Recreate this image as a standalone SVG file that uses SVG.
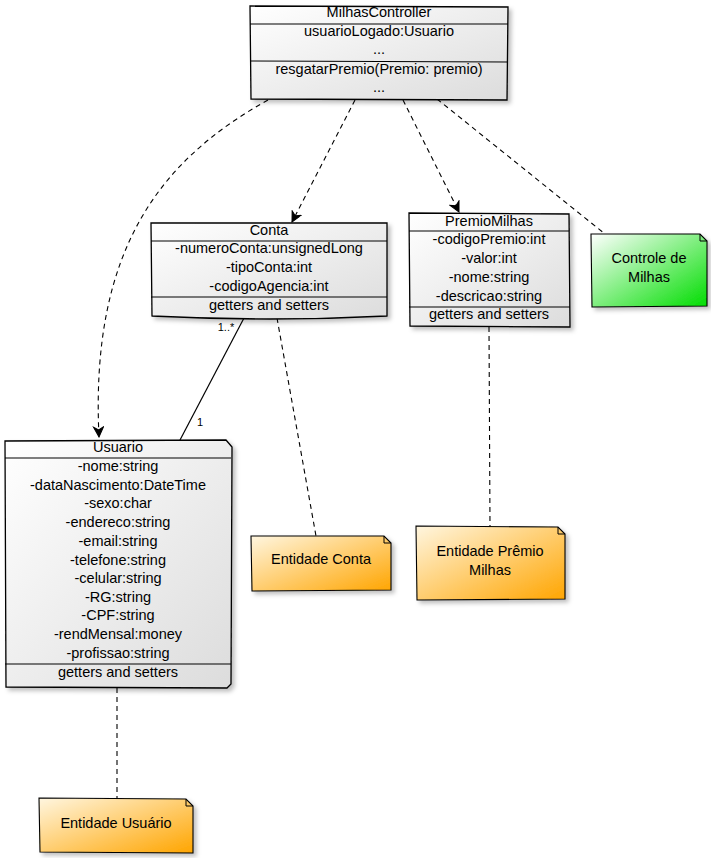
<svg xmlns="http://www.w3.org/2000/svg" width="711" height="858" viewBox="0 0 711 858">
<style>
text{font-family:"Liberation Sans","DejaVu Sans",sans-serif;font-size:14.5px;fill:#000;text-anchor:middle}
.cls{fill:url(#gGrey);stroke:#000;stroke-width:1.3;filter:url(#sh)}
.sep{stroke:#000;stroke-width:1.2;fill:none}
.ng{fill:url(#gGreen);stroke:#000;stroke-width:1.1;filter:url(#sh)}
.no{fill:url(#gOrange);stroke:#000;stroke-width:1.1;filter:url(#sh)}
.fold{fill:none;stroke:#000;stroke-width:1}
.dash{fill:none;stroke:#000;stroke-width:1.1;stroke-dasharray:5,4}
.solid{fill:none;stroke:#000;stroke-width:1.2}
.lbl{font-size:11px}
</style>
<defs>
<linearGradient id="gGrey" x1="0" y1="0" x2="1" y2="1">
<stop offset="0" stop-color="#ffffff"/><stop offset="1" stop-color="#dcdcdc"/>
</linearGradient>
<linearGradient id="gGreen" x1="0" y1="0" x2="1" y2="1">
<stop offset="0" stop-color="#ffffff"/><stop offset="1" stop-color="#00dd00"/>
</linearGradient>
<linearGradient id="gOrange" x1="0" y1="0" x2="1" y2="1">
<stop offset="0" stop-color="#fff6e0"/><stop offset="1" stop-color="#ffa500"/>
</linearGradient>
<filter id="sh" x="-10%" y="-10%" width="130%" height="130%">
<feDropShadow dx="3" dy="3" stdDeviation="2" flood-color="#000" flood-opacity="0.25"/>
</filter>
<marker id="arr" viewBox="0 0 12 12" refX="11" refY="6" markerWidth="12" markerHeight="12" markerUnits="userSpaceOnUse" orient="auto">
<path d="M1,1 L11,6 L1,11 L4,6 Z" fill="#000" stroke="#000" stroke-width="1"/>
</marker>
</defs>

<g id="connectors">
<path class="dash" d="M268,100 C160,160 90,250 99,437" marker-end="url(#arr)"/>
<path class="dash" d="M355,100 L292,222" marker-end="url(#arr)"/>
<path class="dash" d="M403,100 L459,212" marker-end="url(#arr)"/>
<path class="dash" d="M437,99 L605,234"/>
<path class="solid" d="M244,318 L180,440"/>
<text class="lbl" x="226" y="331">1..*</text>
<text class="lbl" x="200" y="426">1</text>
<path class="dash" d="M277,318 L316,536"/>
<path class="dash" d="M489,327 L490,526"/>
<path class="dash" d="M117,688 L117,798"/>
</g>

<g id="MilhasController">
<path class="cls" d="M250,6 L508,7 L507,100 L251,99 Z"/>
<path class="sep" d="M250,24 L508,24"/>
<path class="sep" d="M250,61 L508,62"/>
<text x="379" y="17">MilhasController</text>
<text x="379" y="36">usuarioLogado:Usuario</text>
<text x="379" y="54">...</text>
<text x="379" y="74">resgatarPremio(Premio: premio)</text>
<text x="379" y="92">...</text>
</g>

<g id="Conta">
<path class="cls" d="M151,223 L387,223 L387,316 Q270,322 152,316 Z"/>
<path class="sep" d="M151,241 L387,241"/>
<path class="sep" d="M151,297 L387,297"/>
<text x="269" y="235">Conta</text>
<text x="269" y="253">-numeroConta:unsignedLong</text>
<text x="269" y="272">-tipoConta:int</text>
<text x="269" y="291">-codigoAgencia:int</text>
<text x="269" y="310">getters and setters</text>
</g>

<g id="PremioMilhas">
<path class="cls" d="M409,213 L569,214 L570,327 L410,326 Z"/>
<path class="sep" d="M409,231 L569,231"/>
<path class="sep" d="M409,307 L570,307"/>
<text x="489" y="226">PremioMilhas</text>
<text x="489" y="244">-codigoPremio:int</text>
<text x="489" y="263">-valor:int</text>
<text x="489" y="282">-nome:string</text>
<text x="489" y="301">-descricao:string</text>
<text x="489" y="319">getters and setters</text>
</g>

<g id="Usuario">
<path class="cls" d="M5,441 L226,440 L232,447 L231,684 L227,688 L6,687 Z"/>
<path class="sep" d="M5,458 L231,458"/>
<path class="sep" d="M5,664 L231,664"/>
<text x="118" y="452">Usuario</text>
<text x="118" y="471">-nome:string</text>
<text x="118" y="490">-dataNascimento:DateTime</text>
<text x="118" y="508">-sexo:char</text>
<text x="118" y="527">-endereco:string</text>
<text x="118" y="546">-email:string</text>
<text x="118" y="565">-telefone:string</text>
<text x="118" y="583">-celular:string</text>
<text x="118" y="602">-RG:string</text>
<text x="118" y="620">-CPF:string</text>
<text x="118" y="639">-rendMensal:money</text>
<text x="118" y="658">-profissao:string</text>
<text x="118" y="677">getters and setters</text>
</g>

<g id="noteControle">
<path class="ng" d="M591,234 L700,234 L707,241 L707,306 L592,307 Z"/>
<path class="fold" d="M700,234 L700,241 L707,241"/>
<text x="649" y="263">Controle de</text>
<text x="649" y="282">Milhas</text>
</g>

<g id="noteConta">
<path class="no" d="M251,536 L384,536 L391,543 L391,590 L252,591 Z"/>
<path class="fold" d="M384,536 L384,543 L391,543"/>
<text x="321" y="564">Entidade Conta</text>
</g>

<g id="notePremio">
<path class="no" d="M416,526 L558,527 L565,534 L565,599 L417,600 Z"/>
<path class="fold" d="M558,527 L558,534 L565,534"/>
<text x="490" y="556">Entidade Prêmio</text>
<text x="490" y="575">Milhas</text>
</g>

<g id="noteUsuario">
<path class="no" d="M39,798 L186,799 L193,806 L193,853 L40,852 Z"/>
<path class="fold" d="M186,799 L186,806 L193,806"/>
<text x="116" y="828">Entidade Usuário</text>
</g>
</svg>
